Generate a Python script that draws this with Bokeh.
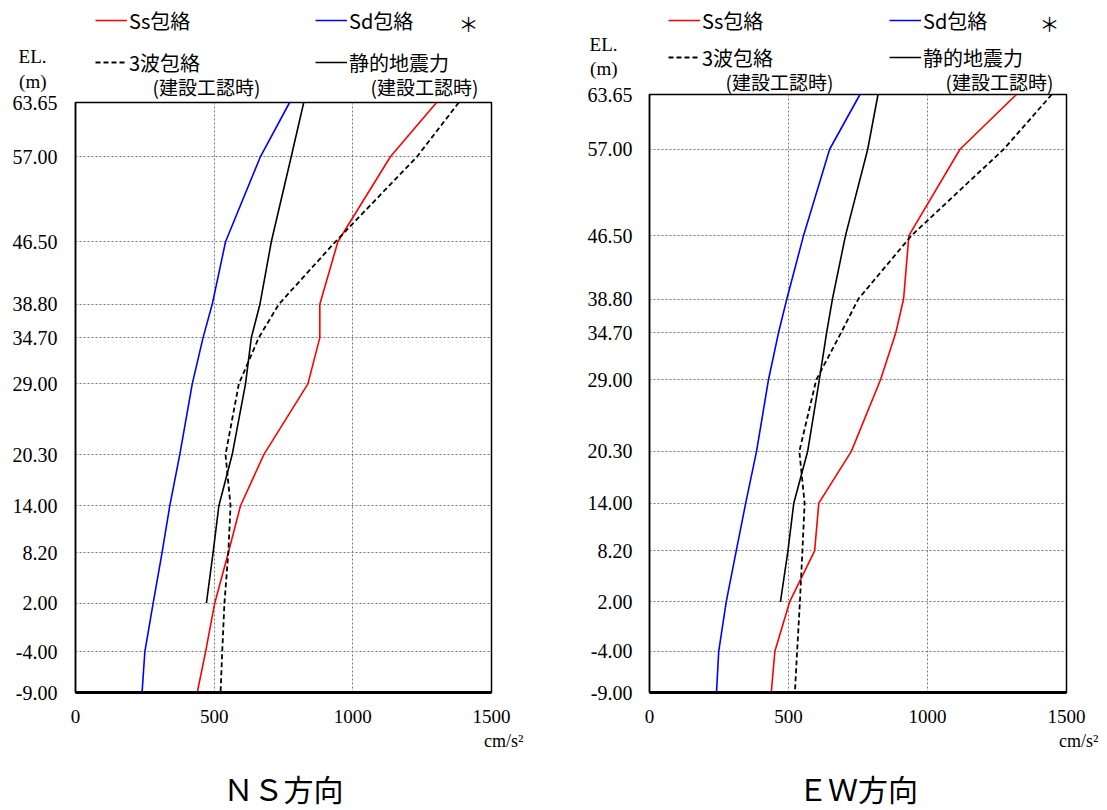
from bokeh.plotting import figure
from bokeh.models import Range1d, FixedTicker, NumeralTickFormatter, Label, Legend, LegendItem, Title
from bokeh.layouts import row, column
from bokeh.embed import file_html
from bokeh.resources import INLINE

# Elevations (m) of the floors / tick labels
elevations = [63.65, 57.00, 46.50, 38.80, 34.70, 29.00, 20.30, 14.00, 8.20, 2.00, -4.00, -9.00]
static_elevations = [63.65, 57.00, 46.50, 38.80, 34.70, 29.00, 20.30, 14.00, 8.20, 2.00]
x_ticks = [0, 500, 1000, 1500]

# NS direction (cm/s2)
ns_ss = [1302, 1136, 946, 881, 881, 838, 679, 595, 551, 502, 469, 439]
ns_sd = [772, 667, 541, 493, 460, 421, 376, 340, 312, 280, 250, 240]
ns_3wave = [1382, 1232, 937, 733, 661, 589, 541, 559, 551, 537, 529, 523]
ns_static = [823, 778, 706, 665, 634, 613, 565, 517, 496, 472]

# EW direction (cm/s2)
ew_ss = [1320, 1117, 933, 914, 886, 831, 726, 609, 594, 504, 451, 438]
ew_sd = [757, 648, 554, 494, 464, 428, 385, 346, 312, 276, 249, 241]
ew_3wave = [1447, 1274, 942, 751, 689, 600, 539, 558, 550, 541, 531, 523]
ew_static = [822, 785, 705, 658, 637, 611, 569, 519, 498, 471]

series_labels = ["Ss包絡", "Sd包絡", "3波包絡", "静的地震力"]
series_colors = ["#FF0000", "#0000FF", "black", "black"]
series_dashes = ["solid", "solid", "5 3", "solid"]
series_widths = [1.6, 1.6, 1.8, 1.6]
note_label = "(建設工認時)"
axis_title = ["EL.", "(m)"]
panel_titles = ["ＮＳ方向", "ＥＷ方向"]
unit_label = "cm/s²"

CJK = "Noto Sans CJK JP"
SERIF = "Liberation Serif"


def bare_figure(width, height, x0, x1, with_yaxis=False, margin=None):
    f = figure(width=width, height=height, x_range=Range1d(x0, x1), y_range=Range1d(height, 0),
               x_axis_type=None, y_axis_type="linear" if with_yaxis else None,
               output_backend="svg", toolbar_location=None, min_border=0,
               outline_line_color=None)
    f.background_fill_alpha = 0
    f.border_fill_alpha = 0
    if margin is not None:
        f.margin = margin
    return f


def make_header(width, height, x0, x1, series, item_pos, note_pos, star_pos, el_y, m_y, el_standoff):
    h = bare_figure(width, height, x0, x1, with_yaxis=True)
    h.ygrid.visible = False
    ax = h.yaxis[0]
    ax.ticker = FixedTicker(ticks=[el_y, m_y])
    ax.major_label_overrides = {el_y: axis_title[0], m_y: axis_title[1]}
    ax.axis_line_color = None
    ax.major_tick_line_color = None
    ax.minor_tick_line_color = None
    ax.major_label_standoff = el_standoff
    ax.major_label_text_font = SERIF
    ax.major_label_text_font_size = "19px"
    ax.major_label_text_color = "black"

    for i, (xs, ys) in enumerate(series):
        r = h.line(xs, ys, line_color=series_colors[i], line_width=series_widths[i],
                   line_dash=series_dashes[i], visible=False)
        gx, gy = item_pos[i]
        lg = Legend(items=[LegendItem(label=series_labels[i], renderers=[r])],
                    location=(gx - x0, height - gy - 15),
                    glyph_width=32, glyph_height=30, label_height=30, label_standoff=2,
                    padding=0, margin=0, spacing=0, border_line_color=None,
                    background_fill_alpha=0, inactive_fill_alpha=0,
                    label_text_font=CJK, label_text_font_size="20px",
                    label_text_align="left", label_text_baseline="middle",
                    label_text_color="black")
        h.add_layout(lg, "center")

    for nx, ny in note_pos:
        h.add_layout(Label(x=nx, y=ny, text=note_label, text_align="center",
                           text_baseline="middle", text_font=CJK, text_font_size="19px",
                           text_color="black"))
    h.add_layout(Label(x=star_pos[0], y=star_pos[1], text="＊", text_align="center",
                       text_baseline="middle", text_font=CJK, text_font_size="20px",
                       text_color="black"))
    return h


def make_footer(width, height, x0, x1, title, title_y, overlap):
    f = bare_figure(width, height, x0, x1, margin=(-overlap, 0, 0, 0))
    f.add_layout(Label(x=(x0 + x1) / 2, y=title_y, text=title, text_align="center",
                       text_baseline="middle", text_font=CJK, text_font_size="30px",
                       text_color="black"))
    return f


def make_panel(series, width, height, border_left, border_top, frame_w, frame_h, standoff, overlap):
    p = figure(width=width, height=height, output_backend="svg", toolbar_location=None,
               x_range=Range1d(0, 1500), y_range=Range1d(-9, 63.65),
               min_border_left=border_left, min_border_right=width - border_left - frame_w,
               min_border_top=border_top, min_border_bottom=height - border_top - frame_h)
    p.margin = (-overlap, 0, 0, 0)
    p.outline_line_color = "black"
    p.outline_line_width = 1.5
    p.background_fill_color = "white"
    p.border_fill_alpha = 0

    p.xaxis.ticker = FixedTicker(ticks=x_ticks)
    p.yaxis.ticker = FixedTicker(ticks=elevations)
    p.yaxis.formatter = NumeralTickFormatter(format="0.00")
    for ax in (p.xaxis[0], p.yaxis[0]):
        ax.major_tick_line_color = None
        ax.minor_tick_line_color = None
        ax.major_label_text_font = SERIF
        ax.major_label_text_color = "black"
        ax.axis_line_color = "black"
    p.yaxis.major_label_text_font_size = "20px"
    p.xaxis.major_label_text_font_size = "19px"
    p.yaxis.major_label_standoff = standoff
    p.xaxis.major_label_standoff = 11
    p.yaxis.axis_line_width = 1.5
    p.xaxis.axis_line_width = 3

    for g in (p.xgrid[0], p.ygrid[0]):
        g.grid_line_color = "#777777"
        g.grid_line_dash = "2 2"
        g.grid_line_width = 1

    for i, (xs, ys) in enumerate(series):
        p.line(xs, ys, line_color=series_colors[i], line_width=series_widths[i],
               line_dash=series_dashes[i])

    p.add_layout(Title(text=unit_label, align="right", offset=-32, standoff=7,
                       text_font=SERIF, text_font_size="18px", text_font_style="normal",
                       text_color="black"), "below")
    return p


ns_series = [(ns_ss, elevations), (ns_sd, elevations), (ns_3wave, elevations),
             (ns_static, static_elevations)]
ew_series = [(ew_ss, elevations), (ew_sd, elevations), (ew_3wave, elevations),
             (ew_static, static_elevations)]

# left column: header 0..100, panel 88..762 (frame 102..692), footer 758..809
h1 = make_header(570, 100, 75, 491, ns_series,
                 item_pos=[(95, 20), (315, 20), (95, 62), (315, 62)],
                 note_pos=[(206, 86), (424, 86)], star_pos=(468, 23),
                 el_y=56, m_y=81, el_standoff=23)
p1 = make_panel(ns_series, width=570, height=674, border_left=75, border_top=14,
                frame_w=416, frame_h=590, standoff=12, overlap=12)
f1 = make_footer(570, 51, 75, 491, panel_titles[0], 29, overlap=4)

# right column: header 0..96, panel 80..762 (frame 94..692), footer 758..809
h2 = make_header(535, 96, 649, 1066, ew_series,
                 item_pos=[(668, 20), (889, 20), (668, 57), (889, 57)],
                 note_pos=[(779, 81), (999, 81)], star_pos=(1049, 23),
                 el_y=44, m_y=68, el_standoff=26)
p2 = make_panel(ew_series, width=535, height=682, border_left=79, border_top=14,
                frame_w=417, frame_h=598, standoff=11, overlap=16)
f2 = make_footer(535, 51, 649, 1066, panel_titles[1], 29, overlap=4)

layout = row(column(h1, p1, f1), column(h2, p2, f2))
open("out.html", "w").write(file_html(layout, INLINE))
